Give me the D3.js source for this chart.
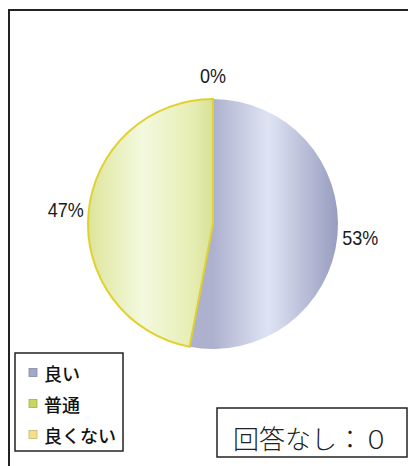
<!DOCTYPE html>
<html>
<head>
<meta charset="utf-8">
<script src="https://cdn.jsdelivr.net/npm/d3@7"></script>
<style>
  body { margin: 0; background: #fff; }
  svg { display: block; }
</style>
</head>
<body>
<svg id="chart"></svg>
<script>
const categories = ['良い', '普通', '良くない'];
const values = [53, 47, 0];
const noAnswer = '回答なし：０';

const width = 408, height = 466;
const cx = 213, cy = 224, radius = 125;

const svg = d3.select('#chart').attr('width', width).attr('height', height);
const defs = svg.append('defs');

// shading, roughly like the old office 3d-ish fills
const grad = [
  { id: 'g0', stops: [[0, '#aeb2ce'], [0.5, '#adb1ce'], [0.72, '#dfe4f4'], [1, '#989cbf']] },
  { id: 'g1', stops: [[0, '#dde59a'], [0.22, '#f3f9de'], [0.42, '#e6edb2'], [0.5, '#d8e196'], [1, '#d8e196']] },
  { id: 'g2', stops: [[0, '#f3e27a'], [1, '#f3e27a']] }
];
grad.forEach(g => {
  const lg = defs.append('linearGradient')
    .attr('id', g.id)
    .attr('gradientUnits', 'userSpaceOnUse')
    .attr('x1', -radius).attr('x2', radius)
    .attr('y1', 0).attr('y2', 0);
  g.stops.forEach(s => lg.append('stop').attr('offset', s[0]).attr('stop-color', s[1]));
});

const legendColors = ['#a4a8c8', '#c9d760', '#f3e088'];
const strokes = ['none', '#e0d12e', '#e0d12e'];

// outer frame (runs off the right and bottom edge)
svg.append('rect')
  .attr('x', 9).attr('y', 10)
  .attr('width', 420).attr('height', 480)
  .attr('fill', 'none').attr('stroke', '#222').attr('stroke-width', 2);

const pie = d3.pie().sort(null).value(d => d)(values);
const arc = d3.arc().innerRadius(0).outerRadius(radius);
const labelArc = d3.arc().innerRadius(148).outerRadius(148);

const g = svg.append('g').attr('transform', `translate(${cx},${cy})`);

g.selectAll('.slice')
  .data(pie)
  .enter().append('path')
  .attr('class', 'slice')
  .attr('d', arc)
  .attr('fill', (d, i) => `url(#g${i})`)
  .attr('stroke', (d, i) => strokes[i])
  .attr('stroke-width', 2);

g.selectAll('.lbl')
  .data(pie)
  .enter().append('text')
  .attr('class', 'lbl')
  .attr('transform', d => `translate(${labelArc.centroid(d)}) scale(0.9,1)`)
  .attr('text-anchor', 'middle')
  .attr('dominant-baseline', 'central')
  .attr('font-family', 'Liberation Sans, Arial, sans-serif')
  .attr('font-size', 20)
  .attr('fill', '#1a1a1a')
  .text(d => d.data + '%');

// legend
const legend = svg.append('g');
legend.append('rect')
  .attr('x', 15).attr('y', 353)
  .attr('width', 108).attr('height', 98)
  .attr('fill', '#fff').attr('stroke', '#222').attr('stroke-width', 1.5);

const item = legend.selectAll('.item')
  .data(categories)
  .enter().append('g')
  .attr('class', 'item')
  .attr('transform', (d, i) => `translate(0,${373 + i * 31})`);

item.append('rect')
  .attr('x', 29).attr('y', -4.5)
  .attr('width', 8).attr('height', 8)
  .attr('fill', (d, i) => legendColors[i])
  .attr('stroke', (d, i) => d3.color(legendColors[i]).darker(0.6))
  .attr('stroke-width', 0.8);

item.append('text')
  .attr('x', 44).attr('y', 0)
  .attr('dominant-baseline', 'central')
  .attr('font-family', 'Noto Sans CJK JP, sans-serif')
  .attr('font-weight', 500)
  .attr('font-size', 18)
  .attr('fill', '#111')
  .text(d => d);

// no-answer box
svg.append('rect')
  .attr('x', 217).attr('y', 408)
  .attr('width', 190).attr('height', 49)
  .attr('fill', '#fff').attr('stroke', '#222').attr('stroke-width', 1.5);

svg.append('text')
  .attr('x', 233).attr('y', 437)
  .attr('dominant-baseline', 'central')
  .attr('font-family', 'Noto Sans CJK JP, sans-serif')
  .attr('font-weight', 300)
  .attr('font-size', 26)
  .attr('fill', '#222')
  .text(noAnswer);
</script>
</body>
</html>
